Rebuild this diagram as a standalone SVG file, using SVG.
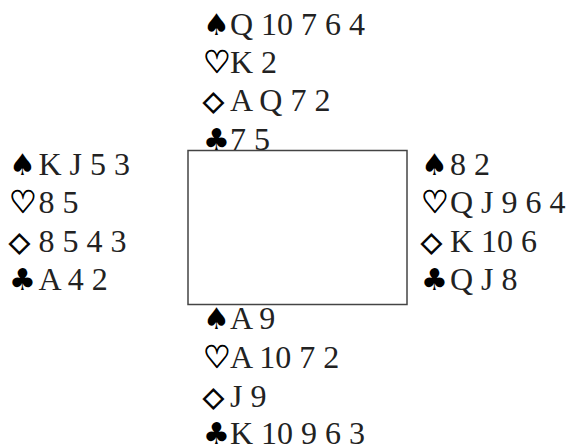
<svg xmlns="http://www.w3.org/2000/svg" width="571" height="447" viewBox="0 0 571 447">
<style>
.t{font-family:"Liberation Serif","Times New Roman",serif;font-size:32px;fill:#222}
.s{font-family:"DejaVu Sans",sans-serif;font-size:30px;fill:#000}
.h{font-family:"DejaVu Sans",sans-serif;font-size:31px;fill:#000;stroke:#000;stroke-width:0.8}
.d{font-family:"DejaVu Sans",sans-serif;font-size:27px;fill:#000;stroke:#000;stroke-width:1}
</style>
<rect width="571" height="447" fill="#fff"/>
<g id="table"><rect x="188" y="150.5" width="219" height="154" fill="none" stroke="#444" stroke-width="1.5"/></g>
<g id="north">
<text class="s" x="203" y="34.5">♠</text><text class="t" x="230" y="34.5">Q 10 7 6 4</text>
<text class="h" x="203" y="73">♡</text><text class="t" x="230" y="73">K 2</text>
<text class="d" x="203" y="110">◇</text><text class="t" x="230" y="111">A Q 7 2</text>
<text class="s" x="203" y="149.5">♣</text><text class="t" x="230" y="149.5">7 5</text>
</g>
<g id="west">
<text class="s" x="9" y="175">♠</text><text class="t" x="38.5" y="175">K J 5 3</text>
<text class="h" x="9" y="213">♡</text><text class="t" x="38.5" y="213">8 5</text>
<text class="d" x="9" y="251">◇</text><text class="t" x="38.5" y="252">8 5 4 3</text>
<text class="s" x="9" y="290">♣</text><text class="t" x="38.5" y="290">A 4 2</text>
</g>
<g id="east">
<text class="s" x="421" y="175">♠</text><text class="t" x="450" y="175">8 2</text>
<text class="h" x="421" y="213">♡</text><text class="t" x="450" y="213">Q J 9 6 4</text>
<text class="d" x="421" y="251">◇</text><text class="t" x="450" y="252">K 10 6</text>
<text class="s" x="421" y="290">♣</text><text class="t" x="450" y="290">Q J 8</text>
</g>
<g id="south">
<text class="s" x="203" y="329">♠</text><text class="t" x="230" y="329">A 9</text>
<text class="h" x="203" y="368">♡</text><text class="t" x="230" y="368">A 10 7 2</text>
<text class="d" x="203" y="405.5">◇</text><text class="t" x="230" y="406.5">J 9</text>
<text class="s" x="203" y="444">♣</text><text class="t" x="230" y="444">K 10 9 6 3</text>
</g>
</svg>
